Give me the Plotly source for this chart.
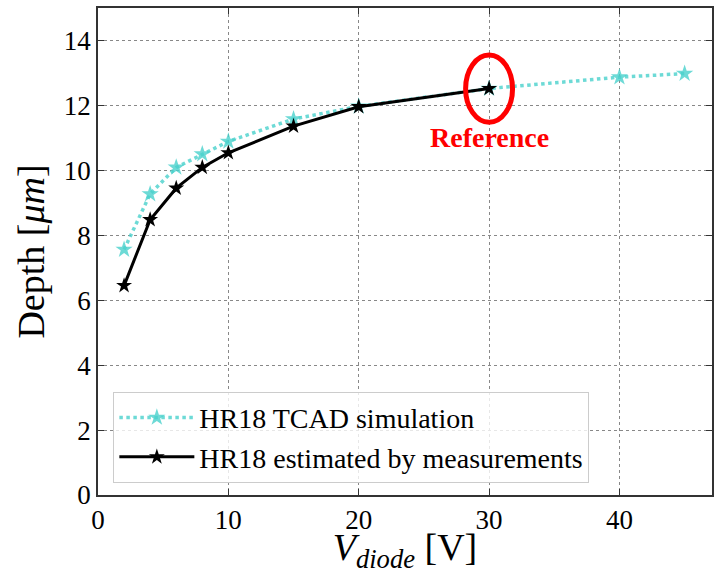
import plotly.graph_objects as go

# Data
v_tcad = [2, 4, 6, 8, 10, 15, 20, 30, 40, 45]
depth_tcad = [7.56, 9.27, 10.09, 10.50, 10.89, 11.58, 11.97, 12.52, 12.87, 12.98]
v_meas = [2, 4, 6, 8, 10, 15, 20, 30]
depth_meas = [6.45, 8.48, 9.45, 10.09, 10.54, 11.36, 11.96, 12.52]
x_ticks = [0, 10, 20, 30, 40]
y_ticks = [0, 2, 4, 6, 8, 10, 12, 14]

FONT = "Liberation Serif"

fig = go.Figure()
fig.add_trace(go.Scatter(
    x=v_tcad, y=depth_tcad, mode="lines+markers",
    name="HR18 TCAD simulation",
    line=dict(color="rgba(72,209,204,0.8)", width=3.5, dash="dot"),
    marker=dict(symbol="star", size=13, color="rgba(72,209,204,0.8)"),
))
fig.add_trace(go.Scatter(
    x=v_meas, y=depth_meas, mode="lines+markers",
    name="HR18 estimated by measurements",
    line=dict(color="black", width=3),
    marker=dict(symbol="star", size=12, color="black"),
))

# Reference ellipse and label
fig.add_shape(type="circle", xref="x", yref="y", x0=28.2, x1=31.8, y0=11.48, y1=13.55,
              line=dict(color="red", width=5), layer="above")
fig.add_annotation(x=30, y=11.0, xref="x", yref="y", text="<b>Reference</b>",
                   showarrow=False, font=dict(family=FONT, size=28, color="red"))

axis_common = dict(
    showline=True, linecolor="#333", linewidth=1.5, mirror="ticks",
    ticks="inside", ticklen=6, tickcolor="#333",
    showgrid=True, gridcolor="#888", griddash="dot", gridwidth=1,
    zeroline=False, tickfont=dict(family=FONT, size=27, color="black"),
)

fig.update_xaxes(range=[0, 47.1], tickvals=x_ticks,
                 title=dict(text="<i>V<sub>diode</sub></i> [V]", font=dict(family=FONT, size=38, color="black"), standoff=6),
                 **axis_common)
fig.update_yaxes(range=[0, 15], tickvals=y_ticks,
                 title=dict(text="Depth [<i>μm</i>]", font=dict(family=FONT, size=38, color="black"), standoff=8),
                 **axis_common)

fig.update_layout(
    width=720, height=574,
    margin=dict(l=98, r=7, t=6, b=72),
    plot_bgcolor="white", paper_bgcolor="white",
    font=dict(family=FONT, color="black"),
    legend=dict(x=0.025, y=0.212, xanchor="left", yanchor="top",
                bgcolor="rgba(255,255,255,0.8)", bordercolor="#ccc", borderwidth=1,
                font=dict(family=FONT, size=28, color="black"),
                itemwidth=75, tracegroupgap=0),
    showlegend=True,
)

fig.write_html("out.html")
